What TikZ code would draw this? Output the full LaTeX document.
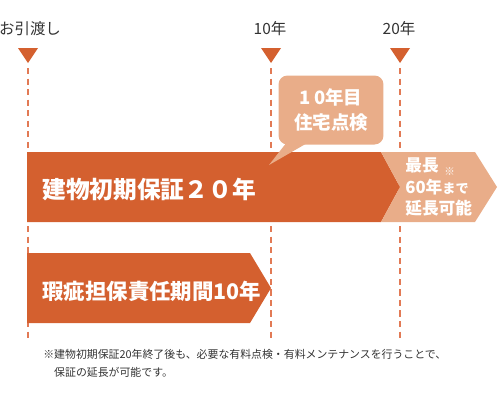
\documentclass[tikz,border=0pt]{standalone}
\usepackage{fontspec}
\setmainfont{Noto Sans CJK JP}
\usetikzlibrary{positioning,calc}
\definecolor{barorange}{HTML}{D4602F}
\definecolor{paleorange}{HTML}{E9AD89}
\definecolor{guideorange}{HTML}{E27A55}
\definecolor{textgray}{HTML}{333333}

\begin{document}
\begin{tikzpicture}[
    x=0.02cm, y=-0.02cm,
    yearlabel/.style={inner sep=0pt, text=textgray, font=\fontsize{8.8}{10}\selectfont},
    marker/.style={fill=barorange},
    guide/.style={draw=guideorange, line width=0.8pt, dash pattern=on 3.5pt off 2.5pt},
    barlabel/.style={inner sep=0pt, anchor=west, text=white, align=left},
    bubble/.style={fill=paleorange, rounded corners=0.18cm, minimum width=2.1cm, minimum height=1.38cm, align=center, text=white, font=\bfseries\fontsize{10.5}{14}\selectfont}
]
    \useasboundingbox (0,0) rectangle (500,400);

    % timeline labels and markers
    \node[yearlabel] (handover) at (30,29) {お引渡し};
    \node[yearlabel] (year10) at (270,29) {10年};
    \node[yearlabel] (year20) at (399,29) {20年};

    \coordinate (t0) at (28,63);
    \coordinate (t10) at (271,63);
    \coordinate (t20) at (400,63);
    \coordinate (g0) at (28,340);
    \coordinate (g10) at (271,340);
    \coordinate (g20) at (400,340);

    \fill[marker] (t0) -- ++(-10,-15) -- ++(20,0) -- cycle;
    \fill[marker] (t10) -- ++(-10,-15) -- ++(20,0) -- cycle;
    \fill[marker] (t20) -- ++(-10,-15) -- ++(20,0) -- cycle;

    \draw[guide] (t0) ++(0,5) -- (g0);
    \draw[guide] (t10) ++(0,5) -- (g10);
    \draw[guide] (t20) ++(0,5) -- (g20);

    % bars
    \fill[barorange] (27,152) -- (381,152) -- (400,187) -- (381,222) -- (27,222) -- cycle;
    \fill[paleorange] (381,152) -- (475,152) -- (497,187) -- (475,222) -- (381,222) -- (400,187) -- cycle;
    \fill[barorange] (27,253) -- (250,253) -- (271,288) -- (250,323) -- (27,323) -- cycle;

    % inspection bubble
    \node[bubble] (inspect) at (331,110) {1\,0年目\\住宅点検};
    \fill[paleorange] (287,142) -- (269,165) -- (309,142) -- cycle;

    \node[barlabel, font=\bfseries\fontsize{13.5}{16}\selectfont] (initial) at (42,189) {建物初期保証２０年};
    \node[barlabel, font=\bfseries\fontsize{12.2}{15}\selectfont] (defect) at (42,291) {瑕疵担保責任期間10年};
    \node[barlabel, font=\bfseries\fontsize{9.5}{12}\selectfont] (extend) at (405,187)
        {最長\,\,\raisebox{-2pt}{\fontsize{6}{6}\selectfont ※}\\60年{\fontsize{7.5}{9}\selectfont まで}\\延長可能};

    % footnote
    \node[inner sep=0pt, anchor=north west, align=left, text=textgray, font=\fontsize{6.2}{10.2}\selectfont] (note) at (43,349)
        {※建物初期保証20年終了後も、必要な有料点検・有料メンテナンスを行うことで、\\\hspace{1em}保証の延長が可能です。};
\end{tikzpicture}
\end{document}
